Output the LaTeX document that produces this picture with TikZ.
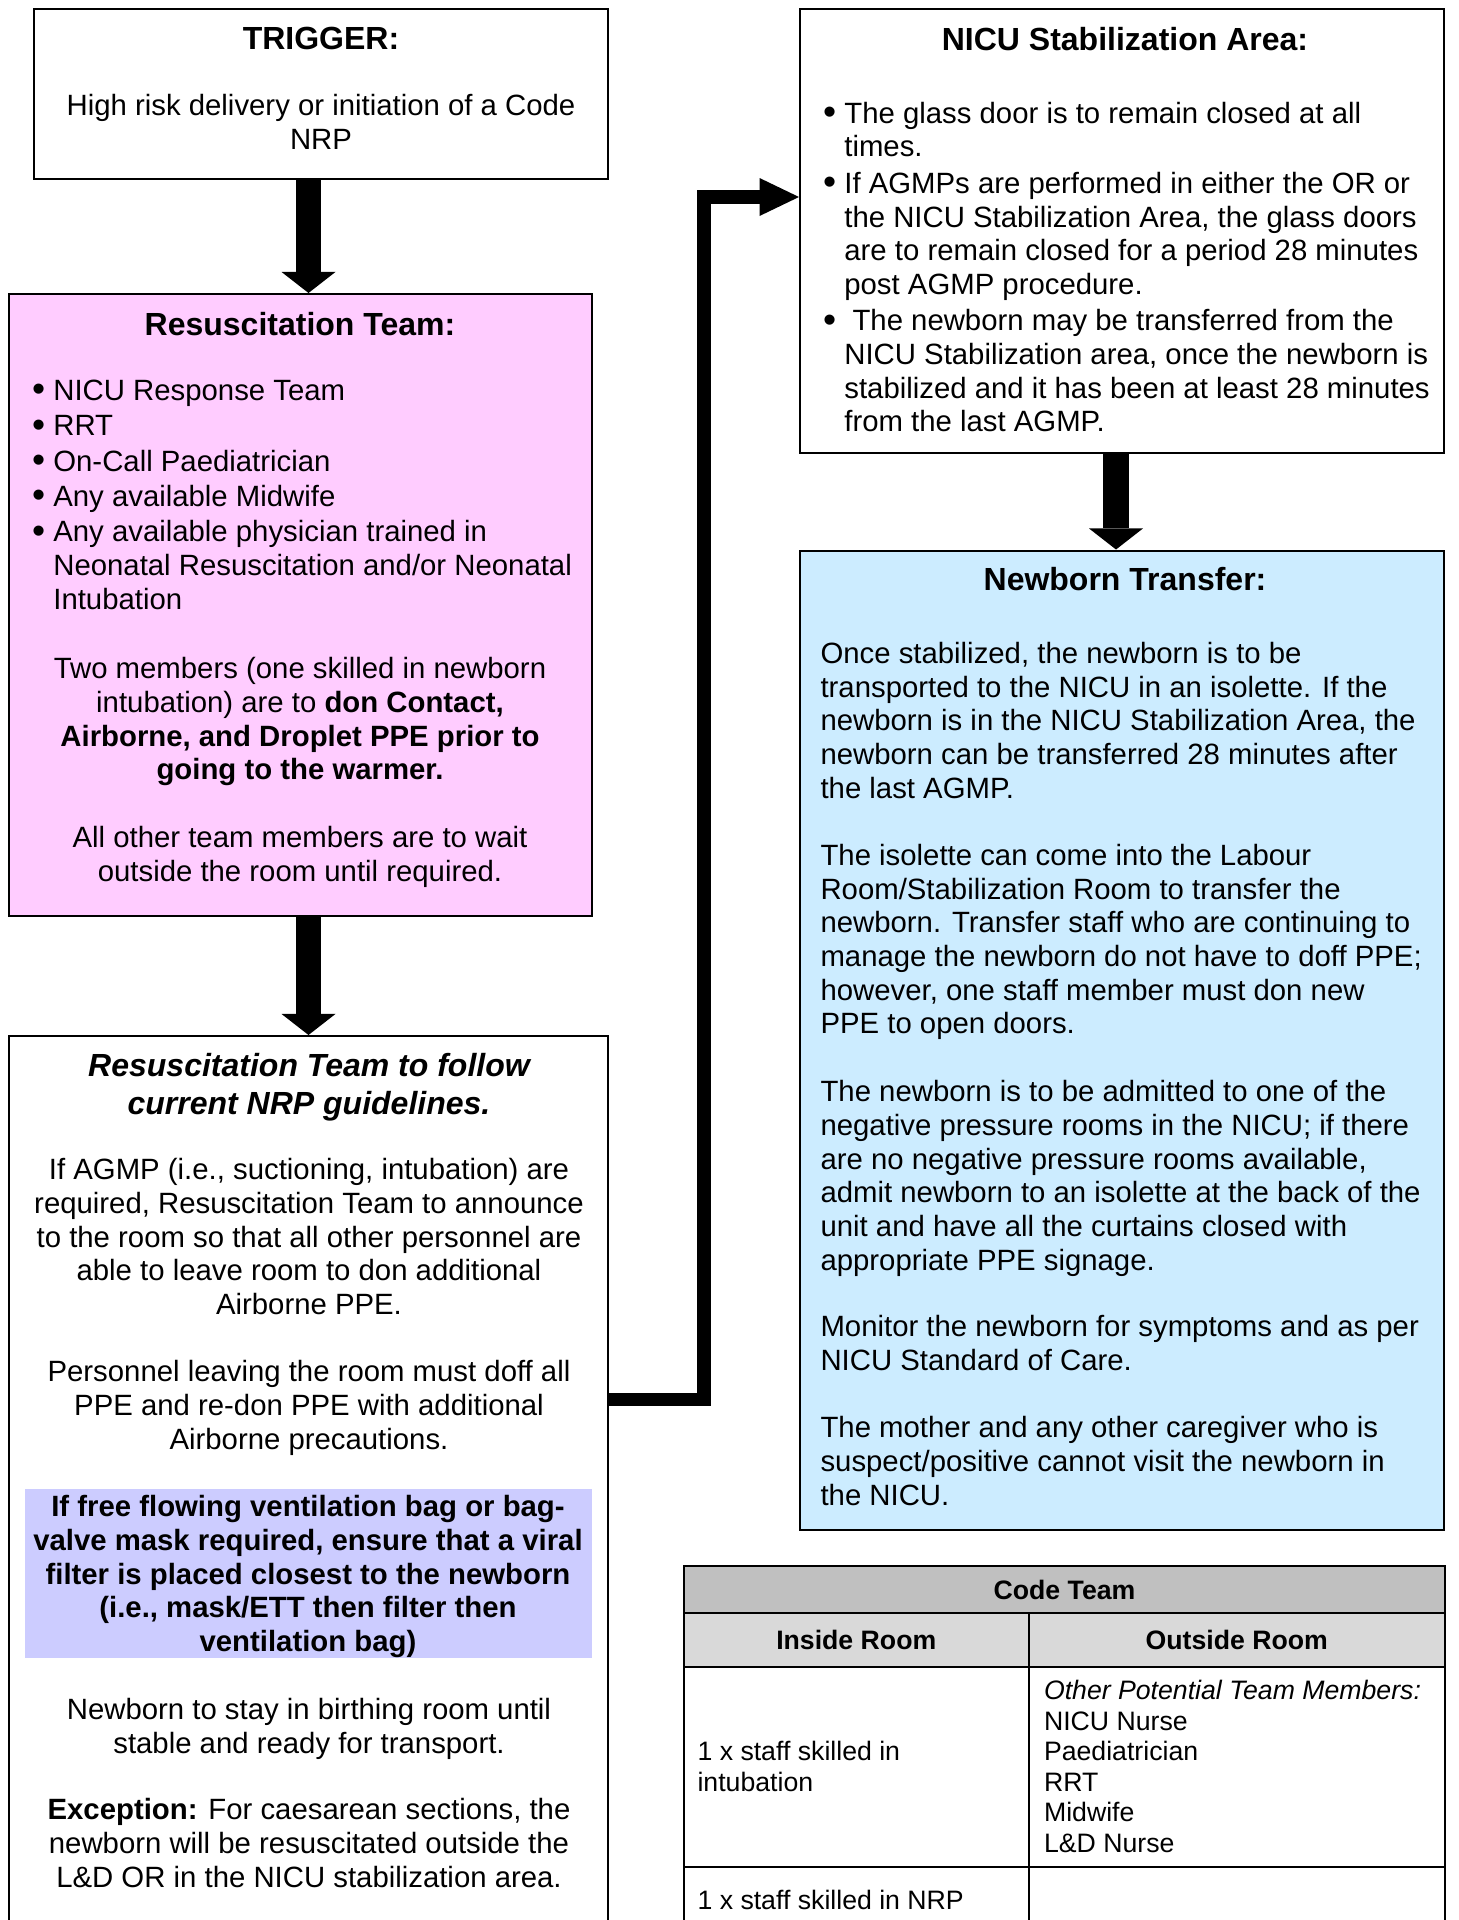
\documentclass[tikz,border=0pt]{standalone}
\usepackage{fontspec}
\setmainfont{Liberation Sans}
\usetikzlibrary{arrows.meta,fit,positioning}

\definecolor{resuspink}{HTML}{FFCCFF}
\definecolor{transferblue}{HTML}{CCECFF}
\definecolor{filterblue}{HTML}{CCCCFF}
\definecolor{headgray}{HTML}{C0C0C0}
\definecolor{subgray}{HTML}{D9D9D9}

\newcommand{\bitem}{\makebox[8pt][l]{\raisebox{-0.5pt}{\fontsize{14}{14}\selectfont\textbullet}}}
\newcommand{\bgap}{\makebox[8pt]{}}

\begin{document}
\begin{tikzpicture}[x=0.375pt, y=-0.375pt,
  box/.style={draw, line width=0.75pt, inner sep=0pt},
  txt/.style={inner sep=0pt, font=\fontsize{11}{12.64}\selectfont},
  ttl/.style={inner sep=0pt, anchor=north, font=\fontsize{12}{14.25}\selectfont\bfseries},
  cell/.style={draw, line width=0.75pt, inner sep=0pt},
  ctxt/.style={inner sep=0pt, align=left, font=\fontsize{10}{11.44}\selectfont},
  bigarrow/.style={line width=9.4pt, -{Triangle[width=20.25pt, length=7.9pt, line width=0pt]}},
  elbow/.style={line width=4.9pt, line join=miter, -{Triangle[width=14.25pt, length=14.8pt, line width=0pt]}}]
  \useasboundingbox (0,0) rectangle (1458,1920);

  \node[box, fit={(33.5,9) (608,178.5)}] (trigger) {};
  \node[box, fill=resuspink, fit={(8.5,294) (592,916)}] (resus) {};
  \node[box, fit={(9,1036) (608,1950)}] (nrp) {};
  \node[fill=filterblue, inner sep=0pt, fit={(24.5,1489) (592,1658)}] (filter) {};
  \node[box, fit={(800,9) (1444,452.5)}] (nicu) {};
  \node[box, fill=transferblue, fit={(800,550.5) (1444,1530)}] (transfer) {};

  \node[ttl] (trtitle) at (321,27) {TRIGGER:};
  \node[txt, anchor=north, align=center] (trbody) at (321,94) {High risk delivery or initiation of a Code\\NRP};

  \node[ttl] (restitle) at (300,311.5) {Resuscitation Team:};
  \node[txt, anchor=north west, align=left] (reslist) at (31.5,379.5) {\bitem NICU Response Team\\[0.6pt]
    \bitem RRT\\[0.6pt]
    \bitem On-Call Paediatrician\\[0.6pt]
    \bitem Any available Midwife\\[0.6pt]
    \bitem Any available physician trained in\\
    \bgap Neonatal Resuscitation and/or Neonatal\\
    \bgap Intubation};
  \node[txt, anchor=north, align=center] (resdon) at (300,657) {Two members (one skilled in newborn\\intubation) are to \textbf{don Contact,}\\\textbf{Airborne, and Droplet PPE prior to}\\\textbf{going to the warmer.}};
  \node[txt, anchor=north, align=center] (reswait) at (300,826) {All other team members are to wait\\outside the room until required.};

  \node[ttl, font=\fontsize{12}{14.25}\selectfont\bfseries\itshape, align=center] (nrptitle) at (309,1053) {Resuscitation Team to follow\\current NRP guidelines.};
  \node[txt, anchor=north, align=center] (nrpagmp) at (309,1158) {If AGMP (i.e., suctioning, intubation) are\\required, Resuscitation Team to announce\\to the room so that all other personnel are\\able to leave room to don additional\\Airborne PPE.};
  \node[txt, anchor=north, align=center] (nrpdoff) at (309,1360) {Personnel leaving the room must doff all\\PPE and re-don PPE with additional\\Airborne precautions.};
  \node[txt, anchor=north, align=center, font=\fontsize{11}{12.64}\selectfont\bfseries] (filtertext) at (308,1495) {If free flowing ventilation bag or bag-\\valve mask required, ensure that a viral\\filter is placed closest to the newborn\\(i.e., mask/ETT then filter then\\ventilation bag)};
  \node[txt, anchor=north, align=center] (nrpstay) at (309,1698) {Newborn to stay in birthing room until\\stable and ready for transport.};
  \node[txt, anchor=north, align=center] (nrpexcept) at (309,1798) {\textbf{Exception:} For caesarean sections, the\\newborn will be resuscitated outside the\\L\&D OR in the NICU stabilization area.};

  \node[ttl] (nicutitle) at (1125,26.5) {NICU Stabilization Area:};
  \node[txt, anchor=north west, align=left] (niculist) at (822.5,101.5) {\bitem The glass door is to remain closed at all\\
    \bgap times.\\[1pt]
    \bitem If AGMPs are performed in either the OR or\\
    \bgap the NICU Stabilization Area, the glass doors\\
    \bgap are to remain closed for a period 28 minutes\\
    \bgap post AGMP procedure.\\[1pt]
    \bitem\ The newborn may be transferred from the\\
    \bgap NICU Stabilization area, once the newborn is\\
    \bgap stabilized and it has been at least 28 minutes\\
    \bgap from the last AGMP.};

  \node[ttl] (trantitle) at (1125,567) {Newborn Transfer:};
  \node[txt, anchor=north west, align=left] (tranisolette) at (820,641.5) {Once stabilized, the newborn is to be\\transported to the NICU in an isolette. If the\\newborn is in the NICU Stabilization Area, the\\newborn can be transferred 28 minutes after\\the last AGMP.};
  \node[txt, anchor=north west, align=left] (tranroom) at (820,843.5) {The isolette can come into the Labour\\Room/Stabilization Room to transfer the\\newborn. Transfer staff who are continuing to\\manage the newborn do not have to doff PPE;\\however, one staff member must don new\\PPE to open doors.};
  \node[txt, anchor=north west, align=left] (tranadmit) at (820,1080) {The newborn is to be admitted to one of the\\negative pressure rooms in the NICU; if there\\are no negative pressure rooms available,\\admit newborn to an isolette at the back of the\\unit and have all the curtains closed with\\appropriate PPE signage.};
  \node[txt, anchor=north west, align=left] (tranmonitor) at (820,1315) {Monitor the newborn for symptoms and as per\\NICU Standard of Care.};
  \node[txt, anchor=north west, align=left] (tranvisit) at (820,1416) {The mother and any other caregiver who is\\suspect/positive cannot visit the newborn in\\the NICU.};

  \node[cell, fill=headgray, fit={(684,1566) (1445,1613)}] (codehead) {};
  \node[cell, fill=subgray, fit={(684,1613) (1028.5,1666.5)}] (inhead) {};
  \node[cell, fill=subgray, fit={(1028.5,1613) (1445,1666.5)}] (outhead) {};
  \node[cell, fit={(684,1666.5) (1028.5,1866.5)}] (in1) {};
  \node[cell, fit={(1028.5,1666.5) (1445,1866.5)}] (out1) {};
  \node[cell, fit={(684,1866.5) (1028.5,1934)}] (in2) {};
  \node[cell, fit={(1028.5,1866.5) (1445,1934)}] (out2) {};

  \node[ctxt, font=\fontsize{10}{11.44}\selectfont\bfseries] (codetext) at (codehead) {Code Team};
  \node[ctxt, font=\fontsize{10}{11.44}\selectfont\bfseries] (intext) at (inhead) {Inside Room};
  \node[ctxt, font=\fontsize{10}{11.44}\selectfont\bfseries] (outtext) at (outhead) {Outside Room};
  \node[ctxt, anchor=west] (in1text) at ([xshift=5.25pt]in1.west) {1 x staff skilled in\\intubation};
  \node[ctxt, anchor=west] (out1text) at ([xshift=6pt]out1.west) {\textit{Other Potential Team Members:}\\NICU Nurse\\Paediatrician\\RRT\\Midwife\\L\&D Nurse};
  \node[ctxt, anchor=west] (in2text) at ([xshift=5.25pt]in2.west) {1 x staff skilled in NRP};

  \draw[bigarrow] (trigger.south -| 308.5,0) -- (resus.north -| 308.5,0);
  \draw[bigarrow] (resus.south -| 308.5,0) -- (nrp.north -| 308.5,0);
  \draw[bigarrow] (nicu.south -| 1116,0) -- (transfer.north -| 1116,0);
  \draw[elbow] (nrp.east |- 0,1399.5) -| (704,197) -- (nicu.west |- 0,197);
\end{tikzpicture}
\end{document}
